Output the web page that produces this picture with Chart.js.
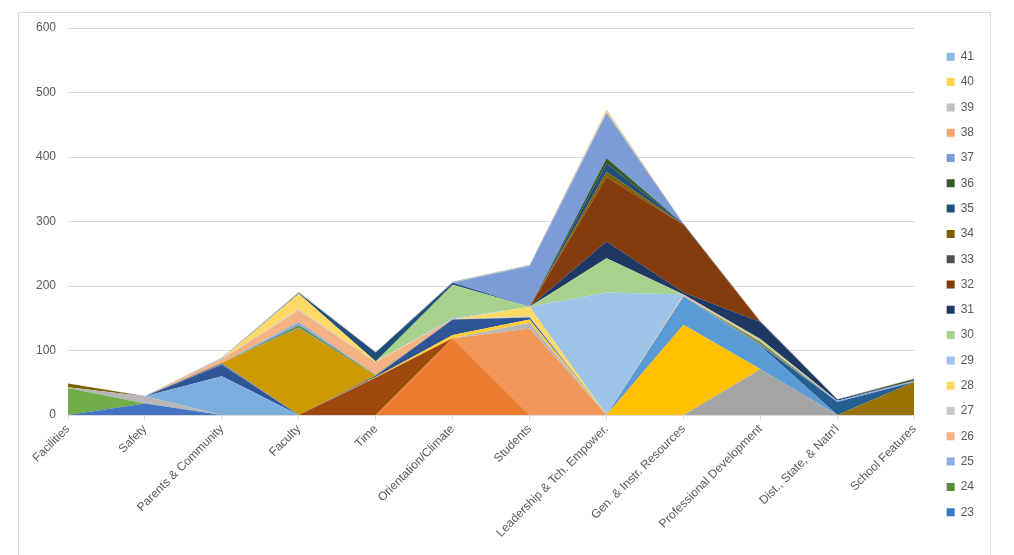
<!DOCTYPE html>
<html>
<head>
<meta charset="utf-8">
<script src="https://cdn.jsdelivr.net/npm/chart.js@4.4.1/dist/chart.umd.min.js"></script>
<style>
  body { margin: 0; background: #fff; }
  #wrap { position: absolute; left: 18px; top: 12px; width: 971px; height: 560px; border: 1px solid #d9d9d9; }
  canvas { display: block; }
</style>
</head>
<body>
<div id="wrap"><canvas id="chart" width="971" height="542"></canvas></div>
<script>
// categories along the x axis
const categories = ['Facilities', 'Safety', 'Parents & Community', 'Faculty', 'Time',
  'Orientation/Climate', 'Students', 'Leadership & Tch. Empower.', 'Gen. & Instr. Resources',
  'Professional Development', "Dist., State, & Natn'l", 'School Features'];

const yTicks = [0, 100, 200, 300, 400, 500, 600];

// series values, one array per series
const s1  = [0, 18, 0, 0, 0, 0, 0, 0, 0, 0, 0, 0];
const s2  = [0, 0, 0, 0, 0, 119, 0, 0, 0, 0, 0, 0];
const s3  = [0, 0, 0, 0, 0, 0, 0, 0, 0, 71, 0, 0];
const s4  = [0, 0, 0, 0, 0, 0, 0, 0, 140, 0, 0, 0];
const s5  = [0, 0, 0, 0, 0, 0, 0, 0, 44, 36, 0, 0];
const s6  = [42, 0, 0, 0, 0, 0, 0, 0, 0, 0, 0, 0];
const s8  = [0, 0, 0, 0, 58, 0, 0, 0, 0, 0, 0, 0];
const s10 = [0, 0, 0, 0, 0, 0, 0, 0, 0, 0, 0, 51];
const s11 = [0, 0, 0, 0, 0, 0, 0, 0, 0, 1, 20, 0];
const s14 = [0, 0, 0, 0, 0, 0, 134, 0, 0, 0, 0, 0];
const s15 = [1, 11, 0, 0, 0, 0, 9, 0, 0, 0, 0, 0];
const s16 = [0, 0, 0, 0, 1, 5, 5, 0, 0, 0, 0, 0];
const s17 = [0, 0, 60, 0, 0, 0, 0, 0, 0, 0, 0, 0];
const s19 = [0, 0, 18, 0, 2, 24, 3, 0, 0, 0, 0, 0];
const s21 = [0, 0, 3, 0, 0, 0, 0, 0, 0, 2, 0, 0];
const s22 = [0, 0, 0, 135, 0, 0, 0, 0, 0, 0, 0, 0];
const s23 = [0, 0, 0, 1, 0, 0, 0, 0, 0, 0, 0, 0];
const s24 = [0, 0, 0, 3, 1, 0, 0, 0, 0, 3, 0, 0];
const s25 = [0, 0, 0, 5, 0, 0, 0, 0, 0, 0, 2, 2];
const s26 = [0, 0, 6, 18, 20, 0, 0, 0, 2, 2, 0, 0];
const s27 = [0, 0, 0, 2, 0, 0, 2, 0, 1, 0, 0, 0];
const s28 = [0, 0, 0, 24, 1, 0, 15, 0, 0, 0, 0, 0];
const s29 = [0, 0, 0, 0, 0, 2, 0, 190, 0, 0, 0, 0];
const s30 = [0, 0, 0, 0, 0, 52, 0, 53, 0, 3, 0, 0];
const s31 = [0, 0, 0, 0, 0, 0, 0, 26, 3, 26, 2, 0];
const s32 = [0, 0, 0, 0, 0, 0, 0, 100, 105, 0, 0, 0];
const s33 = [0, 0, 0, 0, 0, 0, 0, 0, 0, 0, 0, 0];
const s34 = [6, 0, 0, 0, 0, 0, 0, 8, 0, 0, 0, 0];
const s35 = [0, 0, 0, 1, 14, 3, 0, 13, 1, 0, 0, 0];
const s36 = [0, 0, 0, 0, 0, 0, 0, 8, 0, 0, 0, 3];
const s37 = [0, 0, 0, 0, 0, 0, 63, 70, 0, 0, 0, 0];
const s38 = [0, 0, 0, 0, 0, 0, 0, 1, 0, 0, 0, 0];
const s39 = [0, 1, 2, 2, 1, 2, 2, 2, 1, 2, 1, 1];
const s40 = [0, 0, 0, 0, 0, 0, 0, 2, 0, 0, 0, 0];
const s41 = [0, 0, 0, 0, 0, 0, 0, 1, 0, 0, 0, 0];

// stacking order bottom -> top: [name, values, colour]
const series = [
  ['1', s1, '#4472C4'], ['2', s2, '#ED7D31'], ['3', s3, '#A5A5A5'], ['4', s4, '#FFC000'],
  ['5', s5, '#5B9BD5'], ['6', s6, '#70AD47'], ['8', s8, '#9E480E'], ['10', s10, '#997300'],
  ['11', s11, '#255E91'], ['14', s14, '#F1975A'], ['15', s15, '#B7B7B7'], ['16', s16, '#FFCD33'],
  ['17', s17, '#7CAFDD'], ['19', s19, '#2F5597'], ['21', s21, '#848484'], ['22', s22, '#CC9A00'],
  ['23', s23, '#327DC2'], ['24', s24, '#5A8A39'], ['25', s25, '#8FAADC'], ['26', s26, '#F4B183'],
  ['27', s27, '#C9C9C9'], ['28', s28, '#FFD966'], ['29', s29, '#9DC3E6'], ['30', s30, '#A9D18E'],
  ['31', s31, '#203864'], ['32', s32, '#843C0C'], ['33', s33, '#525252'], ['34', s34, '#7F6000'],
  ['35', s35, '#1F4E79'], ['36', s36, '#385723'], ['37', s37, '#7C9CD6'], ['38', s38, '#F2A46F'],
  ['39', s39, '#C0C0C0'], ['40', s40, '#FFD34D'], ['41', s41, '#8CB9E1']
];

const font = { family: 'Liberation Sans', size: 12 };

const datasets = series.map(([name, values, color], i) => ({
  label: name,
  data: values,
  backgroundColor: color,
  borderColor: 'transparent',
  borderWidth: 0,
  pointRadius: 0,
  tension: 0,
  fill: i === 0 ? 'origin' : '-1'
}));

new Chart(document.getElementById('chart'), {
  type: 'line',
  data: { labels: categories, datasets: datasets },
  options: {
    responsive: false,
    animation: false,
    layout: { padding: { top: 11, left: 0, right: 6, bottom: 10 } },
    plugins: {
      tooltip: { enabled: false },
      legend: {
        position: 'right',
        reverse: true,
        labels: {
          boxWidth: 8,
          boxHeight: 8,
          padding: 13.3,
          color: '#595959',
          font: font,
          // only 23..41 fit in the original legend
          filter: (item) => Number(item.text) >= 23
        }
      }
    },
    scales: {
      x: {
        offset: false,
        grid: { drawOnChartArea: false, drawTicks: true, tickLength: 5, color: '#d9d9d9' },
        border: { color: '#d9d9d9' },
        ticks: { autoSkip: false, maxRotation: 45, minRotation: 45, color: '#595959', font: font, padding: 2 },
        afterFit: (s) => { s.height = 130; }
      },
      y: {
        stacked: true,
        min: 0,
        max: 600,
        afterBuildTicks: (s) => { s.ticks = yTicks.map(v => ({ value: v })); },
        grid: { color: '#d9d9d9', drawTicks: false },
        border: { display: false },
        ticks: { color: '#595959', font: { family: 'Liberation Sans', size: 12, lineHeight: 0.5 }, padding: 12 },
        afterFit: (s) => { s.width = 49; }
      },
      yr: {
        position: 'right',
        display: true,
        grid: { display: false },
        border: { display: false },
        ticks: { display: false },
        afterFit: (s) => { s.width = 19; }
      }
    }
  }
});
</script>
</body>
</html>
